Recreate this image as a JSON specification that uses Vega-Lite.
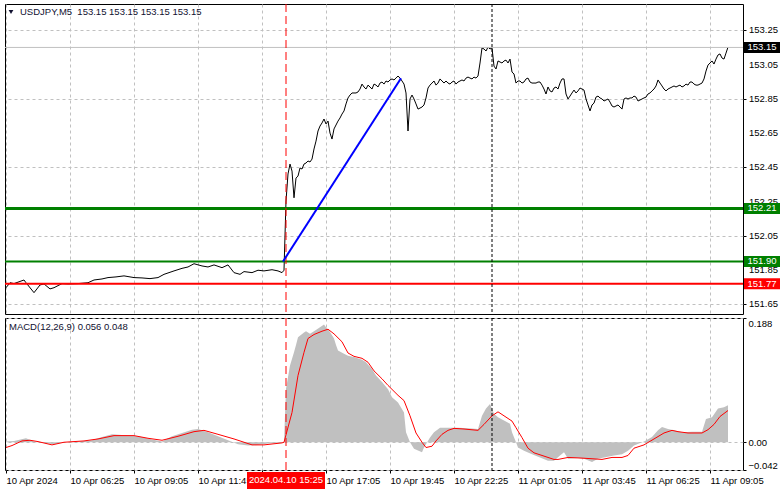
{
  "$schema": "https://vega.github.io/schema/vega-lite/v6.json",
  "background": "white",
  "padding": {"left": 3, "top": 3, "right": 0, "bottom": 0},
  "spacing": 2,
  "config": {
    "font": "Liberation Sans",
    "view": {"stroke": "black", "strokeWidth": 1},
    "axis": {"labelFont": "Liberation Sans", "labelFontSize": 9.5, "labelColor": "black", "gridColor": "#c0c0c0", "gridDash": [3, 3], "gridOpacity": 1, "gridWidth": 1, "tickColor": "black", "domain": false, "zindex": 0, "labelOverlap": false}
  },
  "datasets": {
    "price": [
      {"t": "2024-04-10T03:45", "p": 151.747}, {"t": "2024-04-10T03:55", "p": 151.776}, {"t": "2024-04-10T04:05", "p": 151.771}, {"t": "2024-04-10T04:30", "p": 151.792}, {"t": "2024-04-10T04:35", "p": 151.776}, {"t": "2024-04-10T04:55", "p": 151.718}, {"t": "2024-04-10T05:10", "p": 151.763}, {"t": "2024-04-10T05:20", "p": 151.769}, {"t": "2024-04-10T05:35", "p": 151.740}, {"t": "2024-04-10T05:45", "p": 151.747}, {"t": "2024-04-10T06:05", "p": 151.771}, {"t": "2024-04-10T06:20", "p": 151.769}, {"t": "2024-04-10T06:45", "p": 151.771}, {"t": "2024-04-10T07:10", "p": 151.776}, {"t": "2024-04-10T07:25", "p": 151.792}, {"t": "2024-04-10T07:45", "p": 151.798}, {"t": "2024-04-10T08:00", "p": 151.806}, {"t": "2024-04-10T08:20", "p": 151.810}, {"t": "2024-04-10T08:40", "p": 151.816}, {"t": "2024-04-10T09:05", "p": 151.806}, {"t": "2024-04-10T09:25", "p": 151.804}, {"t": "2024-04-10T09:45", "p": 151.800}, {"t": "2024-04-10T10:05", "p": 151.806}, {"t": "2024-04-10T10:20", "p": 151.825}, {"t": "2024-04-10T10:45", "p": 151.845}, {"t": "2024-04-10T11:05", "p": 151.860}, {"t": "2024-04-10T11:20", "p": 151.868}, {"t": "2024-04-10T11:35", "p": 151.887}, {"t": "2024-04-10T11:55", "p": 151.874}, {"t": "2024-04-10T12:10", "p": 151.868}, {"t": "2024-04-10T12:25", "p": 151.880}, {"t": "2024-04-10T12:45", "p": 151.864}, {"t": "2024-04-10T13:00", "p": 151.880}, {"t": "2024-04-10T13:15", "p": 151.835}, {"t": "2024-04-10T13:30", "p": 151.825}, {"t": "2024-04-10T13:40", "p": 151.841}, {"t": "2024-04-10T14:00", "p": 151.835}, {"t": "2024-04-10T14:15", "p": 151.849}, {"t": "2024-04-10T14:30", "p": 151.845}, {"t": "2024-04-10T14:50", "p": 151.852}, {"t": "2024-04-10T15:05", "p": 151.845}, {"t": "2024-04-10T15:15", "p": 151.835}, {"t": "2024-04-10T15:20", "p": 151.849},
      {"t": "2024-04-10T15:25", "p": 152.253}, {"t": "2024-04-10T15:30", "p": 152.411}, {"t": "2024-04-10T15:35", "p": 152.469}, {"t": "2024-04-10T15:40", "p": 152.428}, {"t": "2024-04-10T15:45", "p": 152.272}, {"t": "2024-04-10T15:50", "p": 152.387}, {"t": "2024-04-10T15:55", "p": 152.399}, {"t": "2024-04-10T16:00", "p": 152.446}, {"t": "2024-04-10T16:05", "p": 152.440}, {"t": "2024-04-10T16:10", "p": 152.469}, {"t": "2024-04-10T16:15", "p": 152.475}, {"t": "2024-04-10T16:20", "p": 152.487}, {"t": "2024-04-10T16:25", "p": 152.481}, {"t": "2024-04-10T16:30", "p": 152.498}, {"t": "2024-04-10T16:35", "p": 152.557}, {"t": "2024-04-10T16:40", "p": 152.603}, {"t": "2024-04-10T16:45", "p": 152.662}, {"t": "2024-04-10T16:50", "p": 152.691}, {"t": "2024-04-10T16:55", "p": 152.709}, {"t": "2024-04-10T17:00", "p": 152.732}, {"t": "2024-04-10T17:05", "p": 152.703}, {"t": "2024-04-10T17:10", "p": 152.720}, {"t": "2024-04-10T17:15", "p": 152.650}, {"t": "2024-04-10T17:20", "p": 152.615}, {"t": "2024-04-10T17:25", "p": 152.674}, {"t": "2024-04-10T17:30", "p": 152.697}, {"t": "2024-04-10T17:35", "p": 152.720}, {"t": "2024-04-10T17:40", "p": 152.738}, {"t": "2024-04-10T17:45", "p": 152.761}, {"t": "2024-04-10T17:50", "p": 152.779}, {"t": "2024-04-10T17:55", "p": 152.820}, {"t": "2024-04-10T18:00", "p": 152.855}, {"t": "2024-04-10T18:05", "p": 152.872}, {"t": "2024-04-10T18:10", "p": 152.884}, {"t": "2024-04-10T18:20", "p": 152.884}, {"t": "2024-04-10T18:25", "p": 152.890}, {"t": "2024-04-10T18:30", "p": 152.907}, {"t": "2024-04-10T18:35", "p": 152.936}, {"t": "2024-04-10T18:40", "p": 152.919}, {"t": "2024-04-10T18:45", "p": 152.907}, {"t": "2024-04-10T18:50", "p": 152.930}, {"t": "2024-04-10T18:55", "p": 152.919}, {"t": "2024-04-10T19:00", "p": 152.907}, {"t": "2024-04-10T19:05", "p": 152.936}, {"t": "2024-04-10T19:10", "p": 152.930}, {"t": "2024-04-10T19:15", "p": 152.919}, {"t": "2024-04-10T19:20", "p": 152.942}, {"t": "2024-04-10T19:25", "p": 152.948}, {"t": "2024-04-10T19:30", "p": 152.936}, {"t": "2024-04-10T19:35", "p": 152.954}, {"t": "2024-04-10T19:40", "p": 152.948}, {"t": "2024-04-10T19:45", "p": 152.960}, {"t": "2024-04-10T19:50", "p": 152.966}, {"t": "2024-04-10T19:55", "p": 152.960}, {"t": "2024-04-10T20:00", "p": 152.971}, {"t": "2024-04-10T20:05", "p": 152.983}, {"t": "2024-04-10T20:10", "p": 152.971}, {"t": "2024-04-10T20:15", "p": 152.954}, {"t": "2024-04-10T20:20", "p": 152.936}, {"t": "2024-04-10T20:25", "p": 152.884}, {"t": "2024-04-10T20:30", "p": 152.662}, {"t": "2024-04-10T20:35", "p": 152.849}, {"t": "2024-04-10T20:40", "p": 152.872}, {"t": "2024-04-10T20:45", "p": 152.849}, {"t": "2024-04-10T20:50", "p": 152.820}, {"t": "2024-04-10T20:55", "p": 152.790}, {"t": "2024-04-10T21:00", "p": 152.796}, {"t": "2024-04-10T21:05", "p": 152.802}, {"t": "2024-04-10T21:10", "p": 152.814}, {"t": "2024-04-10T21:15", "p": 152.855}, {"t": "2024-04-10T21:20", "p": 152.913}, {"t": "2024-04-10T21:25", "p": 152.930}, {"t": "2024-04-10T21:30", "p": 152.942}, {"t": "2024-04-10T21:35", "p": 152.954}, {"t": "2024-04-10T21:40", "p": 152.930}, {"t": "2024-04-10T21:45", "p": 152.942}, {"t": "2024-04-10T21:50", "p": 152.966}, {"t": "2024-04-10T21:55", "p": 152.954}, {"t": "2024-04-10T22:00", "p": 152.942}, {"t": "2024-04-10T22:05", "p": 152.954}, {"t": "2024-04-10T22:10", "p": 152.942}, {"t": "2024-04-10T22:15", "p": 152.936}, {"t": "2024-04-10T22:20", "p": 152.948}, {"t": "2024-04-10T22:25", "p": 152.954}, {"t": "2024-04-10T22:30", "p": 152.936}, {"t": "2024-04-10T22:35", "p": 152.948}, {"t": "2024-04-10T22:40", "p": 152.954}, {"t": "2024-04-10T22:45", "p": 152.960}, {"t": "2024-04-10T22:50", "p": 152.954}, {"t": "2024-04-10T22:55", "p": 152.971}, {"t": "2024-04-10T23:00", "p": 152.977}, {"t": "2024-04-10T23:05", "p": 152.971}, {"t": "2024-04-10T23:10", "p": 152.966}, {"t": "2024-04-10T23:15", "p": 152.977}, {"t": "2024-04-10T23:20", "p": 152.971}, {"t": "2024-04-10T23:25", "p": 152.983}, {"t": "2024-04-10T23:30", "p": 153.059}, {"t": "2024-04-10T23:35", "p": 153.147}, {"t": "2024-04-10T23:40", "p": 153.141}, {"t": "2024-04-10T23:45", "p": 153.129}, {"t": "2024-04-10T23:50", "p": 153.152}, {"t": "2024-04-10T23:55", "p": 153.141},
      {"t": "2024-04-11T00:00", "p": 153.147}, {"t": "2024-04-11T00:05", "p": 153.041}, {"t": "2024-04-11T00:10", "p": 153.024}, {"t": "2024-04-11T00:15", "p": 153.071}, {"t": "2024-04-11T00:20", "p": 153.065}, {"t": "2024-04-11T00:25", "p": 153.059}, {"t": "2024-04-11T00:30", "p": 153.071}, {"t": "2024-04-11T00:35", "p": 153.076}, {"t": "2024-04-11T00:40", "p": 153.059}, {"t": "2024-04-11T00:45", "p": 153.082}, {"t": "2024-04-11T00:50", "p": 153.006}, {"t": "2024-04-11T00:55", "p": 152.995}, {"t": "2024-04-11T01:00", "p": 152.942}, {"t": "2024-04-11T01:05", "p": 152.954}, {"t": "2024-04-11T01:10", "p": 152.954}, {"t": "2024-04-11T01:15", "p": 152.942}, {"t": "2024-04-11T01:20", "p": 152.948}, {"t": "2024-04-11T01:25", "p": 152.966}, {"t": "2024-04-11T01:30", "p": 152.971}, {"t": "2024-04-11T01:35", "p": 152.948}, {"t": "2024-04-11T01:40", "p": 152.942}, {"t": "2024-04-11T01:45", "p": 152.942}, {"t": "2024-04-11T01:50", "p": 152.942}, {"t": "2024-04-11T01:55", "p": 152.948}, {"t": "2024-04-11T02:00", "p": 152.948}, {"t": "2024-04-11T02:05", "p": 152.930}, {"t": "2024-04-11T02:10", "p": 152.907}, {"t": "2024-04-11T02:15", "p": 152.878}, {"t": "2024-04-11T02:20", "p": 152.919}, {"t": "2024-04-11T02:25", "p": 152.896}, {"t": "2024-04-11T02:30", "p": 152.890}, {"t": "2024-04-11T02:35", "p": 152.913}, {"t": "2024-04-11T02:40", "p": 152.919}, {"t": "2024-04-11T02:45", "p": 152.907}, {"t": "2024-04-11T02:50", "p": 152.942}, {"t": "2024-04-11T02:55", "p": 152.966}, {"t": "2024-04-11T03:00", "p": 152.966}, {"t": "2024-04-11T03:05", "p": 152.878}, {"t": "2024-04-11T03:10", "p": 152.849}, {"t": "2024-04-11T03:15", "p": 152.866}, {"t": "2024-04-11T03:20", "p": 152.884}, {"t": "2024-04-11T03:25", "p": 152.901}, {"t": "2024-04-11T03:30", "p": 152.884}, {"t": "2024-04-11T03:35", "p": 152.896}, {"t": "2024-04-11T03:40", "p": 152.913}, {"t": "2024-04-11T03:45", "p": 152.907}, {"t": "2024-04-11T03:50", "p": 152.901}, {"t": "2024-04-11T03:55", "p": 152.849}, {"t": "2024-04-11T04:00", "p": 152.814}, {"t": "2024-04-11T04:05", "p": 152.779}, {"t": "2024-04-11T04:10", "p": 152.814}, {"t": "2024-04-11T04:15", "p": 152.825}, {"t": "2024-04-11T04:20", "p": 152.860}, {"t": "2024-04-11T04:25", "p": 152.866}, {"t": "2024-04-11T04:30", "p": 152.855}, {"t": "2024-04-11T04:35", "p": 152.849}, {"t": "2024-04-11T04:40", "p": 152.837}, {"t": "2024-04-11T04:45", "p": 152.843}, {"t": "2024-04-11T04:50", "p": 152.849}, {"t": "2024-04-11T04:55", "p": 152.831}, {"t": "2024-04-11T05:00", "p": 152.808}, {"t": "2024-04-11T05:05", "p": 152.802}, {"t": "2024-04-11T05:10", "p": 152.808}, {"t": "2024-04-11T05:15", "p": 152.814}, {"t": "2024-04-11T05:20", "p": 152.802}, {"t": "2024-04-11T05:25", "p": 152.790}, {"t": "2024-04-11T05:30", "p": 152.849}, {"t": "2024-04-11T05:35", "p": 152.855}, {"t": "2024-04-11T05:40", "p": 152.849}, {"t": "2024-04-11T05:45", "p": 152.855}, {"t": "2024-04-11T05:50", "p": 152.855}, {"t": "2024-04-11T05:55", "p": 152.866}, {"t": "2024-04-11T06:00", "p": 152.860}, {"t": "2024-04-11T06:05", "p": 152.837}, {"t": "2024-04-11T06:10", "p": 152.843}, {"t": "2024-04-11T06:15", "p": 152.849}, {"t": "2024-04-11T06:20", "p": 152.855}, {"t": "2024-04-11T06:25", "p": 152.860}, {"t": "2024-04-11T06:30", "p": 152.878}, {"t": "2024-04-11T06:35", "p": 152.884}, {"t": "2024-04-11T06:40", "p": 152.896}, {"t": "2024-04-11T06:45", "p": 152.907}, {"t": "2024-04-11T06:50", "p": 152.925}, {"t": "2024-04-11T06:55", "p": 152.960}, {"t": "2024-04-11T07:00", "p": 152.942}, {"t": "2024-04-11T07:05", "p": 152.925}, {"t": "2024-04-11T07:10", "p": 152.907}, {"t": "2024-04-11T07:15", "p": 152.896}, {"t": "2024-04-11T07:20", "p": 152.907}, {"t": "2024-04-11T07:25", "p": 152.913}, {"t": "2024-04-11T07:30", "p": 152.919}, {"t": "2024-04-11T07:35", "p": 152.925}, {"t": "2024-04-11T07:40", "p": 152.919}, {"t": "2024-04-11T07:45", "p": 152.925}, {"t": "2024-04-11T07:50", "p": 152.930}, {"t": "2024-04-11T07:55", "p": 152.919}, {"t": "2024-04-11T08:00", "p": 152.925}, {"t": "2024-04-11T08:05", "p": 152.936}, {"t": "2024-04-11T08:10", "p": 152.930}, {"t": "2024-04-11T08:15", "p": 152.948}, {"t": "2024-04-11T08:20", "p": 152.948}, {"t": "2024-04-11T08:25", "p": 152.936}, {"t": "2024-04-11T08:30", "p": 152.930}, {"t": "2024-04-11T08:35", "p": 152.930}, {"t": "2024-04-11T08:40", "p": 152.936}, {"t": "2024-04-11T08:45", "p": 152.942}, {"t": "2024-04-11T08:50", "p": 152.966}, {"t": "2024-04-11T08:55", "p": 153.012}, {"t": "2024-04-11T09:00", "p": 153.047}, {"t": "2024-04-11T09:05", "p": 153.059}, {"t": "2024-04-11T09:10", "p": 153.071}, {"t": "2024-04-11T09:15", "p": 153.053}, {"t": "2024-04-11T09:20", "p": 153.082}, {"t": "2024-04-11T09:25", "p": 153.106}, {"t": "2024-04-11T09:30", "p": 153.112}, {"t": "2024-04-11T09:35", "p": 153.088}, {"t": "2024-04-11T09:40", "p": 153.082}, {"t": "2024-04-11T09:45", "p": 153.117}, {"t": "2024-04-11T09:50", "p": 153.152}
    ],
    "trend": [
      {"t": "2024-04-10T15:17:30", "p": 151.90}, {"t": "2024-04-10T20:12:30", "p": 152.97}
    ],
    "levels": [
      {"kind": "target", "level": 152.21}, {"kind": "entry", "level": 151.90}, {"kind": "stop", "level": 151.77}, {"kind": "bid", "level": 153.15}
    ],
    "priceTicks": [
      {"v": 151.65}, {"v": 151.85}, {"v": 152.05}, {"v": 152.25}, {"v": 152.45}, {"v": 152.65}, {"v": 152.85}, {"v": 153.05}, {"v": 153.25}
    ],
    "markers": [
      {"kind": "crosshair", "t": "2024-04-10T15:25", "label": "2024.04.10 15:25"}, {"kind": "separator", "t": "2024-04-11T00:00", "label": ""}
    ],
    "macd": [
      {"t": "2024-04-10T03:45", "v": 0.001}, {"t": "2024-04-10T04:05", "v": 0.002}, {"t": "2024-04-10T04:35", "v": 0.006}, {"t": "2024-04-10T04:55", "v": 0.001}, {"t": "2024-04-10T05:20", "v": -0.001}, {"t": "2024-04-10T05:45", "v": -0.003}, {"t": "2024-04-10T06:10", "v": 0.0}, {"t": "2024-04-10T06:45", "v": 0.001}, {"t": "2024-04-10T07:20", "v": 0.003}, {"t": "2024-04-10T07:45", "v": 0.008}, {"t": "2024-04-10T08:10", "v": 0.012}, {"t": "2024-04-10T08:35", "v": 0.011}, {"t": "2024-04-10T09:00", "v": 0.010}, {"t": "2024-04-10T09:25", "v": 0.008}, {"t": "2024-04-10T09:50", "v": 0.004}, {"t": "2024-04-10T10:15", "v": 0.001}, {"t": "2024-04-10T10:40", "v": 0.009}, {"t": "2024-04-10T11:05", "v": 0.014}, {"t": "2024-04-10T11:30", "v": 0.019}, {"t": "2024-04-10T11:45", "v": 0.020}, {"t": "2024-04-10T12:10", "v": 0.015}, {"t": "2024-04-10T12:35", "v": 0.009}, {"t": "2024-04-10T13:00", "v": 0.003}, {"t": "2024-04-10T13:25", "v": -0.003}, {"t": "2024-04-10T13:50", "v": -0.005}, {"t": "2024-04-10T14:15", "v": -0.004}, {"t": "2024-04-10T14:40", "v": -0.002}, {"t": "2024-04-10T15:15", "v": -0.001}, {"t": "2024-04-10T15:20", "v": 0.0},
      {"t": "2024-04-10T15:25", "v": 0.081}, {"t": "2024-04-10T15:35", "v": 0.116}, {"t": "2024-04-10T15:45", "v": 0.136}, {"t": "2024-04-10T15:50", "v": 0.147}, {"t": "2024-04-10T15:55", "v": 0.159}, {"t": "2024-04-10T16:10", "v": 0.166}, {"t": "2024-04-10T16:15", "v": 0.168}, {"t": "2024-04-10T16:25", "v": 0.164}, {"t": "2024-04-10T16:35", "v": 0.168}, {"t": "2024-04-10T16:50", "v": 0.174}, {"t": "2024-04-10T17:00", "v": 0.178}, {"t": "2024-04-10T17:05", "v": 0.174}, {"t": "2024-04-10T17:15", "v": 0.167}, {"t": "2024-04-10T17:25", "v": 0.157}, {"t": "2024-04-10T17:30", "v": 0.147}, {"t": "2024-04-10T17:35", "v": 0.139}, {"t": "2024-04-10T17:50", "v": 0.134}, {"t": "2024-04-10T18:00", "v": 0.131}, {"t": "2024-04-10T18:15", "v": 0.129}, {"t": "2024-04-10T18:35", "v": 0.125}, {"t": "2024-04-10T18:45", "v": 0.121}, {"t": "2024-04-10T19:00", "v": 0.111}, {"t": "2024-04-10T19:10", "v": 0.101}, {"t": "2024-04-10T19:25", "v": 0.091}, {"t": "2024-04-10T19:40", "v": 0.080}, {"t": "2024-04-10T19:50", "v": 0.068}, {"t": "2024-04-10T20:05", "v": 0.060}, {"t": "2024-04-10T20:20", "v": 0.045}, {"t": "2024-04-10T20:25", "v": 0.015}, {"t": "2024-04-10T20:35", "v": 0.0}, {"t": "2024-04-10T20:45", "v": -0.010}, {"t": "2024-04-10T21:05", "v": -0.015}, {"t": "2024-04-10T21:10", "v": -0.008}, {"t": "2024-04-10T21:25", "v": 0.007}, {"t": "2024-04-10T21:35", "v": 0.015}, {"t": "2024-04-10T21:50", "v": 0.022}, {"t": "2024-04-10T22:10", "v": 0.022}, {"t": "2024-04-10T22:35", "v": 0.022}, {"t": "2024-04-10T23:00", "v": 0.021}, {"t": "2024-04-10T23:25", "v": 0.020}, {"t": "2024-04-10T23:35", "v": 0.040}, {"t": "2024-04-10T23:45", "v": 0.051}, {"t": "2024-04-10T23:55", "v": 0.058},
      {"t": "2024-04-11T00:05", "v": 0.043}, {"t": "2024-04-11T00:15", "v": 0.038}, {"t": "2024-04-11T00:30", "v": 0.033}, {"t": "2024-04-11T00:45", "v": 0.028}, {"t": "2024-04-11T00:50", "v": 0.015}, {"t": "2024-04-11T01:00", "v": 0.0}, {"t": "2024-04-11T01:05", "v": -0.008}, {"t": "2024-04-11T01:20", "v": -0.013}, {"t": "2024-04-11T01:40", "v": -0.018}, {"t": "2024-04-11T02:00", "v": -0.023}, {"t": "2024-04-11T02:20", "v": -0.028}, {"t": "2024-04-11T02:35", "v": -0.028}, {"t": "2024-04-11T02:50", "v": -0.020}, {"t": "2024-04-11T03:00", "v": -0.015}, {"t": "2024-04-11T03:10", "v": -0.025}, {"t": "2024-04-11T03:35", "v": -0.024}, {"t": "2024-04-11T03:50", "v": -0.025}, {"t": "2024-04-11T04:10", "v": -0.030}, {"t": "2024-04-11T04:25", "v": -0.025}, {"t": "2024-04-11T04:40", "v": -0.023}, {"t": "2024-04-11T05:05", "v": -0.020}, {"t": "2024-04-11T05:25", "v": -0.018}, {"t": "2024-04-11T05:40", "v": -0.013}, {"t": "2024-04-11T05:55", "v": -0.005}, {"t": "2024-04-11T06:20", "v": 0.001}, {"t": "2024-04-11T06:40", "v": 0.008}, {"t": "2024-04-11T06:55", "v": 0.018}, {"t": "2024-04-11T07:05", "v": 0.023}, {"t": "2024-04-11T07:20", "v": 0.020}, {"t": "2024-04-11T07:35", "v": 0.018}, {"t": "2024-04-11T07:55", "v": 0.015}, {"t": "2024-04-11T08:20", "v": 0.016}, {"t": "2024-04-11T08:45", "v": 0.016}, {"t": "2024-04-11T08:55", "v": 0.035}, {"t": "2024-04-11T09:10", "v": 0.038}, {"t": "2024-04-11T09:25", "v": 0.051}, {"t": "2024-04-11T09:40", "v": 0.053}, {"t": "2024-04-11T09:50", "v": 0.056}
    ],
    "signal": [
      {"t": "2024-04-10T03:45", "s": -0.008}, {"t": "2024-04-10T04:00", "s": -0.005}, {"t": "2024-04-10T04:25", "s": 0.002}, {"t": "2024-04-10T04:45", "s": 0.003}, {"t": "2024-04-10T05:05", "s": 0.001}, {"t": "2024-04-10T05:40", "s": -0.004}, {"t": "2024-04-10T06:10", "s": 0.0}, {"t": "2024-04-10T07:00", "s": 0.002}, {"t": "2024-04-10T07:35", "s": 0.005}, {"t": "2024-04-10T08:15", "s": 0.010}, {"t": "2024-04-10T09:05", "s": 0.010}, {"t": "2024-04-10T09:40", "s": 0.006}, {"t": "2024-04-10T10:15", "s": 0.003}, {"t": "2024-04-10T10:55", "s": 0.009}, {"t": "2024-04-10T11:35", "s": 0.016}, {"t": "2024-04-10T12:00", "s": 0.018}, {"t": "2024-04-10T12:35", "s": 0.012}, {"t": "2024-04-10T13:15", "s": 0.005}, {"t": "2024-04-10T14:00", "s": -0.004}, {"t": "2024-04-10T14:30", "s": -0.004}, {"t": "2024-04-10T15:15", "s": -0.001}, {"t": "2024-04-10T15:20", "s": 0.0},
      {"t": "2024-04-10T15:40", "s": 0.045}, {"t": "2024-04-10T15:55", "s": 0.101}, {"t": "2024-04-10T16:10", "s": 0.136}, {"t": "2024-04-10T16:20", "s": 0.157}, {"t": "2024-04-10T16:35", "s": 0.163}, {"t": "2024-04-10T16:55", "s": 0.168}, {"t": "2024-04-10T17:10", "s": 0.171}, {"t": "2024-04-10T17:25", "s": 0.164}, {"t": "2024-04-10T17:45", "s": 0.152}, {"t": "2024-04-10T18:00", "s": 0.135}, {"t": "2024-04-10T18:15", "s": 0.130}, {"t": "2024-04-10T18:35", "s": 0.127}, {"t": "2024-04-10T18:50", "s": 0.121}, {"t": "2024-04-10T19:05", "s": 0.108}, {"t": "2024-04-10T19:25", "s": 0.096}, {"t": "2024-04-10T19:40", "s": 0.086}, {"t": "2024-04-10T19:50", "s": 0.080}, {"t": "2024-04-10T20:05", "s": 0.071}, {"t": "2024-04-10T20:20", "s": 0.063}, {"t": "2024-04-10T20:35", "s": 0.040}, {"t": "2024-04-10T20:50", "s": 0.014}, {"t": "2024-04-10T21:05", "s": 0.0}, {"t": "2024-04-10T21:15", "s": -0.008}, {"t": "2024-04-10T21:30", "s": -0.006}, {"t": "2024-04-10T21:40", "s": 0.002}, {"t": "2024-04-10T21:55", "s": 0.012}, {"t": "2024-04-10T22:10", "s": 0.018}, {"t": "2024-04-10T22:25", "s": 0.021}, {"t": "2024-04-10T22:50", "s": 0.020}, {"t": "2024-04-10T23:25", "s": 0.018}, {"t": "2024-04-10T23:40", "s": 0.027},
      {"t": "2024-04-11T00:00", "s": 0.040}, {"t": "2024-04-11T00:15", "s": 0.046}, {"t": "2024-04-11T00:30", "s": 0.040}, {"t": "2024-04-11T00:50", "s": 0.032}, {"t": "2024-04-11T01:00", "s": 0.022}, {"t": "2024-04-11T01:15", "s": 0.007}, {"t": "2024-04-11T01:30", "s": -0.009}, {"t": "2024-04-11T01:45", "s": -0.016}, {"t": "2024-04-11T02:10", "s": -0.021}, {"t": "2024-04-11T02:35", "s": -0.026}, {"t": "2024-04-11T02:45", "s": -0.026}, {"t": "2024-04-11T03:10", "s": -0.023}, {"t": "2024-04-11T03:45", "s": -0.024}, {"t": "2024-04-11T04:10", "s": -0.025}, {"t": "2024-04-11T04:35", "s": -0.026}, {"t": "2024-04-11T05:00", "s": -0.023}, {"t": "2024-04-11T05:25", "s": -0.023}, {"t": "2024-04-11T05:40", "s": -0.020}, {"t": "2024-04-11T05:55", "s": -0.009}, {"t": "2024-04-11T06:20", "s": -0.004}, {"t": "2024-04-11T06:45", "s": 0.005}, {"t": "2024-04-11T07:10", "s": 0.014}, {"t": "2024-04-11T07:30", "s": 0.018}, {"t": "2024-04-11T07:45", "s": 0.016}, {"t": "2024-04-11T08:10", "s": 0.014}, {"t": "2024-04-11T08:45", "s": 0.014}, {"t": "2024-04-11T09:00", "s": 0.019}, {"t": "2024-04-11T09:15", "s": 0.027}, {"t": "2024-04-11T09:30", "s": 0.039}, {"t": "2024-04-11T09:50", "s": 0.048}
    ]
  },
  "vconcat": [
    {
      "width": 738,
      "height": 310,
      "layer": [
        {
          "data": {"name": "price"},
          "mark": {"type": "line", "color": "black", "strokeWidth": 1},
          "encoding": {
            "x": {"field": "t", "type": "temporal", "title": null,
              "scale": {"domain": [{"year": 2024, "month": 4, "date": 10, "hours": 3, "minutes": 42, "seconds": 30}, {"year": 2024, "month": 4, "date": 11, "hours": 10, "minutes": 27, "seconds": 30}]},
              "axis": {"orient": "bottom", "title": null, "grid": true, "labels": false, "ticks": false, "domain": false,
                "values": [
                  {"year": 2024, "month": 4, "date": 10, "hours": 3, "minutes": 45}, {"year": 2024, "month": 4, "date": 10, "hours": 5, "minutes": 5}, {"year": 2024, "month": 4, "date": 10, "hours": 6, "minutes": 25}, {"year": 2024, "month": 4, "date": 10, "hours": 7, "minutes": 45}, {"year": 2024, "month": 4, "date": 10, "hours": 9, "minutes": 5}, {"year": 2024, "month": 4, "date": 10, "hours": 10, "minutes": 25}, {"year": 2024, "month": 4, "date": 10, "hours": 11, "minutes": 45}, {"year": 2024, "month": 4, "date": 10, "hours": 13, "minutes": 5}, {"year": 2024, "month": 4, "date": 10, "hours": 14, "minutes": 25}, {"year": 2024, "month": 4, "date": 10, "hours": 15, "minutes": 45}, {"year": 2024, "month": 4, "date": 10, "hours": 17, "minutes": 5}, {"year": 2024, "month": 4, "date": 10, "hours": 18, "minutes": 25}, {"year": 2024, "month": 4, "date": 10, "hours": 19, "minutes": 45}, {"year": 2024, "month": 4, "date": 10, "hours": 21, "minutes": 5}, {"year": 2024, "month": 4, "date": 10, "hours": 22, "minutes": 25}, {"year": 2024, "month": 4, "date": 10, "hours": 23, "minutes": 45}, {"year": 2024, "month": 4, "date": 11, "hours": 1, "minutes": 5}, {"year": 2024, "month": 4, "date": 11, "hours": 2, "minutes": 25}, {"year": 2024, "month": 4, "date": 11, "hours": 3, "minutes": 45}, {"year": 2024, "month": 4, "date": 11, "hours": 5, "minutes": 5}, {"year": 2024, "month": 4, "date": 11, "hours": 6, "minutes": 25}, {"year": 2024, "month": 4, "date": 11, "hours": 7, "minutes": 45}, {"year": 2024, "month": 4, "date": 11, "hours": 9, "minutes": 5}, {"year": 2024, "month": 4, "date": 11, "hours": 10, "minutes": 25}
                ]}},
            "y": {"field": "p", "type": "quantitative", "title": null,
              "scale": {"domain": [151.5934, 153.4036], "zero": false, "nice": false},
              "axis": {"orient": "right", "title": null, "values": [151.65, 151.85, 152.05, 152.25, 152.45, 152.65, 152.85, 153.05, 153.25], "grid": true, "ticks": true, "tickSize": 3, "labels": false}}
          }
        },
        {
          "data": {"name": "priceTicks"},
          "mark": {"type": "text", "align": "left", "baseline": "middle", "fontSize": 9.5, "color": "black"},
          "encoding": {
            "x": {"datum": {"year": 2024, "month": 4, "date": 11, "hours": 10, "minutes": 42, "seconds": 30}, "type": "temporal"},
            "y": {"field": "v", "type": "quantitative"},
            "text": {"field": "v", "type": "quantitative", "format": ".2f"}
          }
        },
        {
          "data": {"name": "levels"},
          "transform": [{"filter": "datum.kind == 'bid'"}],
          "mark": {"type": "rule", "strokeWidth": 1},
          "encoding": {
            "y": {"field": "level", "type": "quantitative"},
            "stroke": {"field": "kind", "type": "nominal", "legend": null, "scale": {"domain": ["target", "entry", "stop", "bid"], "range": ["#008000", "#008000", "#ff0000", "#c0c0c0"]}}
          }
        },
        {
          "data": {"name": "levels"},
          "transform": [{"filter": "datum.kind == 'target'"}],
          "mark": {"type": "rule", "strokeWidth": 3},
          "encoding": {
            "y": {"field": "level", "type": "quantitative"},
            "stroke": {"field": "kind", "type": "nominal", "legend": null}
          }
        },
        {
          "data": {"name": "levels"},
          "transform": [{"filter": "datum.kind == 'entry' || datum.kind == 'stop'"}],
          "mark": {"type": "rule", "strokeWidth": 2},
          "encoding": {
            "y": {"field": "level", "type": "quantitative"},
            "stroke": {"field": "kind", "type": "nominal", "legend": null}
          }
        },
        {
          "data": {"name": "markers"},
          "transform": [{"filter": "datum.kind == 'crosshair'"}],
          "mark": {"type": "rule", "color": "#ff0000", "strokeWidth": 1, "strokeDash": [8, 4]},
          "encoding": {"x": {"field": "t", "type": "temporal"}}
        },
        {
          "data": {"name": "markers"},
          "transform": [{"filter": "datum.kind == 'separator'"}],
          "mark": {"type": "rule", "color": "#000000", "strokeWidth": 1, "strokeDash": [3, 2]},
          "encoding": {"x": {"field": "t", "type": "temporal"}}
        },
        {
          "data": {"name": "trend"},
          "mark": {"type": "line", "color": "#0000ff", "strokeWidth": 2},
          "encoding": {
            "x": {"field": "t", "type": "temporal"},
            "y": {"field": "p", "type": "quantitative"}
          }
        },
        {
          "data": {"name": "levels"},
          "mark": {"type": "tick", "orient": "horizontal", "size": 36, "thickness": 11, "opacity": 1},
          "encoding": {
            "x": {"datum": {"year": 2024, "month": 4, "date": 11, "hours": 11, "minutes": 15}, "type": "temporal"},
            "y": {"field": "level", "type": "quantitative"},
            "color": {"field": "kind", "type": "nominal", "legend": null, "scale": {"domain": ["target", "entry", "stop", "bid"], "range": ["#008000", "#008000", "#ff0000", "#000000"]}}
          }
        },
        {
          "data": {"name": "levels"},
          "mark": {"type": "text", "color": "white", "fontSize": 9.5, "align": "center", "baseline": "middle"},
          "encoding": {
            "x": {"datum": {"year": 2024, "month": 4, "date": 11, "hours": 11, "minutes": 15}, "type": "temporal"},
            "y": {"field": "level", "type": "quantitative"},
            "text": {"field": "level", "type": "quantitative", "format": ".2f"}
          }
        },
        {
          "data": {"values": [{}]},
          "mark": {"type": "point", "shape": "triangle-down", "filled": true, "size": 22, "color": "#101030", "opacity": 1},
          "encoding": {
            "x": {"datum": {"year": 2024, "month": 4, "date": 10, "hours": 3, "minutes": 57, "seconds": 30}, "type": "temporal"},
            "y": {"datum": 153.357}
          }
        },
        {
          "data": {"values": [{}]},
          "mark": {"type": "text", "align": "left", "baseline": "middle", "fontSize": 9.5, "color": "#101030"},
          "encoding": {
            "x": {"datum": {"year": 2024, "month": 4, "date": 10, "hours": 4, "minutes": 20}, "type": "temporal"},
            "y": {"datum": 153.357},
            "text": {"value": "USDJPY,M5\u00a0 153.15 153.15 153.15 153.15"}
          }
        }
      ]
    },
    {
      "width": 738,
      "height": 152,
      "layer": [
        {
          "data": {"name": "macd"},
          "mark": {"type": "area", "color": "#c0c0c0", "opacity": 1},
          "encoding": {
            "x": {"field": "t", "type": "temporal", "title": null,
              "scale": {"domain": [{"year": 2024, "month": 4, "date": 10, "hours": 3, "minutes": 42, "seconds": 30}, {"year": 2024, "month": 4, "date": 11, "hours": 10, "minutes": 27, "seconds": 30}]},
              "axis": {"orient": "bottom", "title": null, "grid": true, "ticks": true, "tickSize": 3, "domain": false, "labelAlign": "left", "labelBaseline": "top", "labelFlush": false, "labelOverlap": false, "labelBound": false, "labelPadding": 2,
                "labelExpr": "(round((datum.value - datetime(2024,3,10,3,45)) / 4800000) % 2 != 0 || round((datum.value - datetime(2024,3,10,3,45)) / 4800000) == 8) ? '' : (round((datum.value - datetime(2024,3,10,3,45)) / 4800000) == 0 ? '10 Apr 2024' : timeFormat(datum.value, '%d %b %H:%M'))",
                "values": [
                  {"year": 2024, "month": 4, "date": 10, "hours": 3, "minutes": 45}, {"year": 2024, "month": 4, "date": 10, "hours": 5, "minutes": 5}, {"year": 2024, "month": 4, "date": 10, "hours": 6, "minutes": 25}, {"year": 2024, "month": 4, "date": 10, "hours": 7, "minutes": 45}, {"year": 2024, "month": 4, "date": 10, "hours": 9, "minutes": 5}, {"year": 2024, "month": 4, "date": 10, "hours": 10, "minutes": 25}, {"year": 2024, "month": 4, "date": 10, "hours": 11, "minutes": 45}, {"year": 2024, "month": 4, "date": 10, "hours": 13, "minutes": 5}, {"year": 2024, "month": 4, "date": 10, "hours": 14, "minutes": 25}, {"year": 2024, "month": 4, "date": 10, "hours": 15, "minutes": 45}, {"year": 2024, "month": 4, "date": 10, "hours": 17, "minutes": 5}, {"year": 2024, "month": 4, "date": 10, "hours": 18, "minutes": 25}, {"year": 2024, "month": 4, "date": 10, "hours": 19, "minutes": 45}, {"year": 2024, "month": 4, "date": 10, "hours": 21, "minutes": 5}, {"year": 2024, "month": 4, "date": 10, "hours": 22, "minutes": 25}, {"year": 2024, "month": 4, "date": 10, "hours": 23, "minutes": 45}, {"year": 2024, "month": 4, "date": 11, "hours": 1, "minutes": 5}, {"year": 2024, "month": 4, "date": 11, "hours": 2, "minutes": 25}, {"year": 2024, "month": 4, "date": 11, "hours": 3, "minutes": 45}, {"year": 2024, "month": 4, "date": 11, "hours": 5, "minutes": 5}, {"year": 2024, "month": 4, "date": 11, "hours": 6, "minutes": 25}, {"year": 2024, "month": 4, "date": 11, "hours": 7, "minutes": 45}, {"year": 2024, "month": 4, "date": 11, "hours": 9, "minutes": 5}, {"year": 2024, "month": 4, "date": 11, "hours": 10, "minutes": 25}
                ]}},
            "y": {"field": "v", "type": "quantitative", "title": null,
              "scale": {"domain": [-0.042, 0.188], "zero": false, "nice": false},
              "axis": {"orient": "right", "title": null, "values": [-0.042, 0, 0.188], "labelExpr": "datum.value == 0 ? '0.00' : format(datum.value, '.3f')", "grid": true, "ticks": true, "tickSize": 3, "labelPadding": 2, "labelFlush": true, "labelOverlap": false}},
            "y2": {"datum": 0}
          }
        },
        {
          "data": {"name": "signal"},
          "mark": {"type": "line", "color": "#ff0000", "strokeWidth": 1},
          "encoding": {
            "x": {"field": "t", "type": "temporal"},
            "y": {"field": "s", "type": "quantitative"}
          }
        },
        {
          "data": {"name": "markers"},
          "transform": [{"filter": "datum.kind == 'crosshair'"}],
          "mark": {"type": "rule", "color": "#ff0000", "strokeWidth": 1, "strokeDash": [8, 4]},
          "encoding": {"x": {"field": "t", "type": "temporal"}}
        },
        {
          "data": {"name": "markers"},
          "transform": [{"filter": "datum.kind == 'separator'"}],
          "mark": {"type": "rule", "color": "#000000", "strokeWidth": 1, "strokeDash": [3, 2]},
          "encoding": {"x": {"field": "t", "type": "temporal"}}
        },
        {
          "data": {"name": "markers"},
          "transform": [{"filter": "datum.kind == 'crosshair'"}],
          "mark": {"type": "tick", "orient": "horizontal", "size": 78, "thickness": 17, "color": "#ff0000", "opacity": 1},
          "encoding": {
            "x": {"field": "t", "type": "temporal"},
            "y": {"datum": -0.0578}
          }
        },
        {
          "data": {"name": "markers"},
          "transform": [{"filter": "datum.kind == 'crosshair'"}],
          "mark": {"type": "text", "color": "white", "fontSize": 9.5, "align": "center", "baseline": "middle"},
          "encoding": {
            "x": {"field": "t", "type": "temporal"},
            "y": {"datum": -0.0578},
            "text": {"field": "label"}
          }
        },
        {
          "data": {"values": [{}]},
          "mark": {"type": "text", "align": "left", "baseline": "middle", "fontSize": 9.5, "color": "#101030"},
          "encoding": {
            "x": {"datum": {"year": 2024, "month": 4, "date": 10, "hours": 3, "minutes": 52, "seconds": 30}, "type": "temporal"},
            "y": {"datum": 0.175},
            "text": {"value": "MACD(12,26,9) 0.056 0.048"}
          }
        }
      ]
    }
  ]
}
